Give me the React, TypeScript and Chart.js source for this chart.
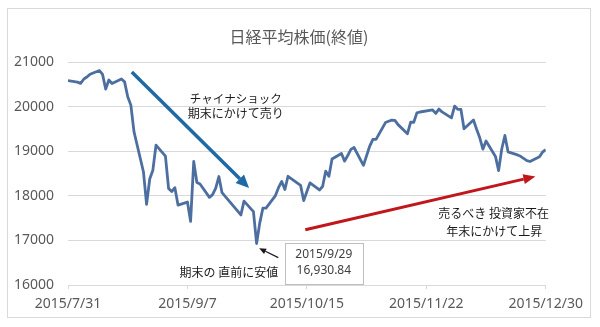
import React, { useEffect, useRef } from "react";
import { Chart, registerables } from "chart.js";

Chart.register(...registerables);

// ---- data ----
const tradeDates = [
  "2015/7/31", "2015/8/3", "2015/8/4", "2015/8/5", "2015/8/6", "2015/8/7", "2015/8/10", "2015/8/11",
  "2015/8/12", "2015/8/13", "2015/8/14", "2015/8/17", "2015/8/18", "2015/8/19", "2015/8/20", "2015/8/21",
  "2015/8/24", "2015/8/25", "2015/8/26", "2015/8/27", "2015/8/28", "2015/8/31", "2015/9/1", "2015/9/2",
  "2015/9/3", "2015/9/4", "2015/9/7", "2015/9/8", "2015/9/9", "2015/9/10", "2015/9/11", "2015/9/14",
  "2015/9/15", "2015/9/16", "2015/9/17", "2015/9/18", "2015/9/24", "2015/9/25", "2015/9/28", "2015/9/29",
  "2015/9/30", "2015/10/1", "2015/10/2", "2015/10/5", "2015/10/6", "2015/10/7", "2015/10/8", "2015/10/9",
  "2015/10/13", "2015/10/14", "2015/10/15", "2015/10/16", "2015/10/19", "2015/10/20", "2015/10/21", "2015/10/22",
  "2015/10/23", "2015/10/26", "2015/10/27", "2015/10/28", "2015/10/29", "2015/10/30", "2015/11/2", "2015/11/4",
  "2015/11/5", "2015/11/6", "2015/11/9", "2015/11/10", "2015/11/11", "2015/11/12", "2015/11/13", "2015/11/16",
  "2015/11/17", "2015/11/18", "2015/11/19", "2015/11/20", "2015/11/24", "2015/11/25", "2015/11/26", "2015/11/27",
  "2015/11/30", "2015/12/1", "2015/12/2", "2015/12/3", "2015/12/4", "2015/12/7", "2015/12/8", "2015/12/9",
  "2015/12/10", "2015/12/11", "2015/12/14", "2015/12/15", "2015/12/16", "2015/12/17", "2015/12/18", "2015/12/21",
  "2015/12/22", "2015/12/24", "2015/12/25", "2015/12/28", "2015/12/29", "2015/12/30",
];

const closes = [
  20585, 20548, 20520, 20614, 20664, 20724, 20808, 20720,
  20392, 20595, 20519, 20620, 20554, 20222, 20033, 19435,
  18540, 17806, 18376, 18574, 19136, 18890, 18165, 18095,
  18182, 17792, 17860, 17427, 18770, 18299, 18264, 17965,
  18026, 18171, 18432, 18070, 17571, 17880, 17645, 16930.84,
  17388, 17722, 17725, 18005, 18186, 18322, 18141, 18438,
  18234, 17891, 18097, 18291, 18131, 18207, 18554, 18435,
  18825, 18947, 18777, 18903, 19041, 19083, 18683, 19116,
  19265, 19265, 19642, 19671, 19697, 19691, 19596, 19393,
  19649, 19649, 19860, 19879, 19924, 19847, 19944, 19883,
  19747, 20012, 19938, 19939, 19504, 19698, 19492, 19301,
  19046, 19230, 18883, 18565, 19049, 19353, 18986, 18916,
  18886, 18789, 18769, 18873, 18982, 19033,
];

const xTickLabels = ["2015/7/31", "2015/9/7", "2015/10/15", "2015/11/22", "2015/12/30"];
const yMin = 16000;
const yMax = 21000;
const yStep = 1000;

const titleText = "日経平均株価(終値)";
const lowLabelDate = "2015/9/29";
const lowLabelValue = "16,930.84";

// ---- helpers ----
const startDate = xTickLabels[0];
function dayIndex(s: string): number {
  const [y, m, d] = s.split("/").map(Number);
  const [y0, m0, d0] = startDate.split("/").map(Number);
  return Math.round((Date.UTC(y, m - 1, d) - Date.UTC(y0, m0 - 1, d0)) / 86400000);
}

const points = tradeDates.map((d, i) => ({ x: dayIndex(d), y: closes[i] }));
const xTickDays = xTickLabels.map(dayIndex);

const FONT_JP = "'Noto Sans CJK JP', 'Noto Sans', sans-serif";
const FONT_NUM = "'Noto Sans', 'Noto Sans CJK JP', sans-serif";

function drawArrow(
  ctx: CanvasRenderingContext2D,
  x1: number, y1: number, x2: number, y2: number,
  color: string, width: number, headLen: number, headW: number
) {
  const ang = Math.atan2(y2 - y1, x2 - x1);
  const bx = x2 - headLen * Math.cos(ang);
  const by = y2 - headLen * Math.sin(ang);
  ctx.save();
  ctx.strokeStyle = color;
  ctx.lineWidth = width;
  ctx.lineCap = "butt";
  ctx.beginPath();
  ctx.moveTo(x1, y1);
  ctx.lineTo(bx, by);
  ctx.stroke();
  ctx.fillStyle = color;
  ctx.beginPath();
  ctx.moveTo(x2, y2);
  ctx.lineTo(bx + (headW / 2) * Math.sin(ang), by - (headW / 2) * Math.cos(ang));
  ctx.lineTo(bx - (headW / 2) * Math.sin(ang), by + (headW / 2) * Math.cos(ang));
  ctx.closePath();
  ctx.fill();
  ctx.restore();
}

const annotationPlugin = {
  id: "annotations",
  afterDatasetsDraw(chart: any) {
    const ctx: CanvasRenderingContext2D = chart.ctx;
    const xs = chart.scales.x;
    const ys = chart.scales.y;
    const px = (d: number) => xs.getPixelForValue(d);
    const py = (v: number) => ys.getPixelForValue(v);

    // title
    ctx.save();
    ctx.fillStyle = "#595959";
    ctx.font = `16px ${FONT_JP}`;
    ctx.textAlign = "center";
    ctx.textBaseline = "middle";
    ctx.fillText(titleText, chart.width / 2, 27.5);
    ctx.restore();

    // blue arrow (down)
    drawArrow(ctx, px(20.3), py(20776), px(57.6), py(18175), "#1f6aa5", 3.5, 13, 12);
    // red arrow (up)
    drawArrow(ctx, px(75.5), py(17240), px(148.7), py(18435), "#c0161c", 3, 12, 10);
    // small black arrow pointing at the low
    drawArrow(ctx, px(66.9), py(16613), px(60.8), py(16824), "#1a1a1a", 1.2, 7, 6);

    ctx.save();
    ctx.fillStyle = "#1a1a1a";
    ctx.textAlign = "center";
    ctx.textBaseline = "middle";
    ctx.font = `11.5px ${FONT_JP}`;
    ctx.fillText("チャイナショック", px(53.4), py(20169));
    ctx.font = `12px ${FONT_JP}`;
    ctx.fillText("期末にかけて売り", px(53.4), py(19855));
    ctx.fillText("期末の 直前に安値", px(51.2), py(16276));
    ctx.fillText("売るべき 投資家不在", px(135.4), py(17594));
    ctx.fillText("年末にかけて上昇", px(135.6), py(17197));
    ctx.restore();

    // data label box for the low
    const bl = px(69.0), br = px(93.8), bt = py(16936), bb = py(16022);
    ctx.save();
    ctx.fillStyle = "#ffffff";
    ctx.fillRect(bl, bt, br - bl, bb - bt);
    ctx.strokeStyle = "#bfbfbf";
    ctx.lineWidth = 1;
    ctx.strokeRect(Math.round(bl) + 0.5, Math.round(bt) + 0.5, Math.round(br - bl), Math.round(bb - bt));
    ctx.fillStyle = "#404040";
    ctx.font = `12px ${FONT_NUM}`;
    ctx.textAlign = "center";
    ctx.textBaseline = "middle";
    ctx.fillText(lowLabelDate, px(81.4), py(16674));
    ctx.fillText(lowLabelValue, px(81.4), py(16321));
    ctx.restore();
  },
};

export default function App() {
  const canvasRef = useRef<HTMLCanvasElement | null>(null);

  useEffect(() => {
    const canvas = canvasRef.current;
    if (!canvas) return;
    const chart = new Chart(canvas, {
      type: "line",
      data: {
        datasets: [
          {
            label: titleText,
            data: points,
            borderColor: "#4d6fa0",
            borderWidth: 2.8,
            pointRadius: 0,
            tension: 0,
            borderJoinStyle: "round",
            fill: false,
          },
        ],
      },
      options: {
        responsive: false,
        animation: false,
        devicePixelRatio: 1,
        parsing: true,
        layout: { padding: { top: 53, right: 44, left: 0, bottom: 0 } },
        plugins: {
          legend: { display: false },
          tooltip: { enabled: false },
          title: { display: false },
        },
        scales: {
          x: {
            type: "linear",
            min: xTickDays[0],
            max: xTickDays[xTickDays.length - 1],
            afterFit: (scale: any) => {
              scale.height = 32;
            },
            afterBuildTicks: (scale: any) => {
              scale.ticks = xTickDays.map((v) => ({ value: v }));
            },
            grid: {
              display: true,
              drawOnChartArea: false,
              drawTicks: true,
              tickLength: 4,
              color: "#d9d9d9",
            },
            border: { display: true, color: "#d9d9d9" },
            ticks: {
              autoSkip: false,
              maxRotation: 0,
              minRotation: 0,
              padding: 7,
              color: "#595959",
              font: { family: FONT_NUM, size: 14 },
              callback: (v: any) => {
                const i = xTickDays.indexOf(Number(v));
                return i >= 0 ? xTickLabels[i] : "";
              },
            },
          },
          y: {
            type: "linear",
            min: yMin,
            max: yMax,
            afterFit: (scale: any) => {
              scale.width = 60;
            },
            grid: { color: "#d9d9d9", drawTicks: false },
            border: { display: false },
            ticks: {
              stepSize: yStep,
              padding: 14,
              color: "#595959",
              font: { family: FONT_NUM, size: 14 },
              callback: (v: any) => String(v),
            },
          },
        },
      },
      plugins: [annotationPlugin],
    } as any);
    return () => chart.destroy();
  }, []);

  return (
    <div
      style={{
        position: "absolute",
        left: 7,
        top: 8,
        width: 582,
        height: 308,
        border: "1px solid #d9d9d9",
        background: "#ffffff",
      }}
    >
      <canvas ref={canvasRef} width={582} height={308} style={{ display: "block" }} />
    </div>
  );
}
